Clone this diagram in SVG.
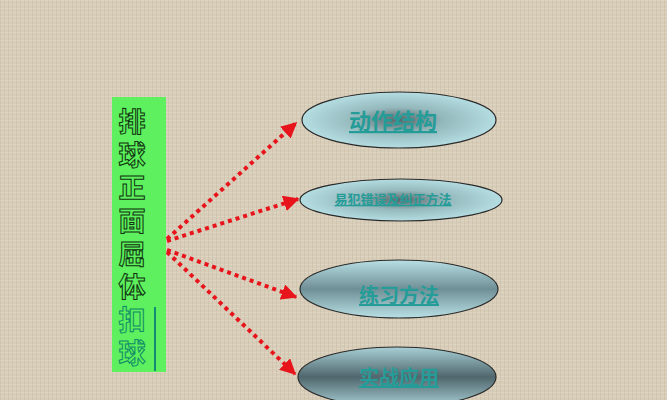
<svg xmlns="http://www.w3.org/2000/svg" width="667" height="400" viewBox="0 0 667 400">
<defs>
<pattern id="linen" width="4" height="4" patternUnits="userSpaceOnUse">
<rect width="4" height="4" fill="#d8cdb8"/>
<rect width="4" height="1" fill="#e4dbc9" opacity="0.6"/>
<rect width="1" height="4" fill="#c7bca6" opacity="0.5"/>
</pattern>
<radialGradient id="rg1" cx="0.5" cy="0.5" r="0.5">
<stop offset="0" stop-color="#5c6468"/>
<stop offset="0.45" stop-color="#94b8bc"/>
<stop offset="1" stop-color="#b4dde2"/>
</radialGradient>
<linearGradient id="lg3" x1="0" y1="0" x2="0" y2="1">
<stop offset="0" stop-color="#b8e0e4"/>
<stop offset="0.5" stop-color="#6f8f96"/>
<stop offset="1" stop-color="#b8e0e4"/>
</linearGradient>
<linearGradient id="lg4" x1="0" y1="0" x2="0" y2="1">
<stop offset="0" stop-color="#a8d0d6"/>
<stop offset="0.5" stop-color="#4f666c"/>
<stop offset="1" stop-color="#a8d0d6"/>
</linearGradient>
<marker id="ah" viewBox="0 0 10 10" refX="9" refY="5" markerWidth="4" markerHeight="4" orient="auto" markerUnits="strokeWidth">
<path d="M0,0 L10,5 L0,10 Z" fill="#e8141c"/>
</marker>
</defs>
<style>
.ell{stroke:#2a2a2a;stroke-width:1.2}
.lbl{font-family:"Noto Sans CJK SC","Noto Sans",sans-serif;fill:#259c98;text-anchor:middle;text-decoration:underline;font-weight:bold}
.conn{fill:none;stroke:#e8141c;stroke-width:4;stroke-dasharray:4 4;marker-end:url(#ah)}
.vt{font-family:"Noto Sans CJK SC",sans-serif;font-size:27px;font-weight:bold;fill:#5cf05c;stroke:#103010;stroke-width:1;writing-mode:vertical-rl;text-orientation:upright;letter-spacing:6px}
.t2{stroke:#0f8a6a}
</style>
<rect width="667" height="400" fill="url(#linen)"/>
<g id="title">
<rect x="112" y="97" width="54" height="275" fill="#5ef05e"/>
<text class="vt" x="132" y="108">排球正面屈体<tspan class="t2">扣球</tspan></text>
<line x1="155" y1="307" x2="155" y2="371" stroke="#128a74" stroke-width="2"/>
</g>
<g id="connectors">
<path class="conn" d="M167,239 L296,123"/>
<path class="conn" d="M167,241 L298,199"/>
<path class="conn" d="M167,250 L296,297"/>
<path class="conn" d="M167,252 L295,374"/>
</g>
<g id="n1">
<ellipse class="ell" cx="399" cy="120" rx="97" ry="28" fill="url(#rg1)"/>
<text class="lbl" x="393" y="129" font-size="22">动作结构</text>
</g>
<g id="n2">
<ellipse class="ell" cx="401" cy="200" rx="101" ry="21" fill="url(#rg1)"/>
<text class="lbl" x="393" y="204" font-size="13">易犯错误及纠正方法</text>
</g>
<g id="n3">
<ellipse class="ell" cx="399" cy="289" rx="99" ry="29" fill="url(#lg3)"/>
<text class="lbl" x="399" y="303" font-size="20">练习方法</text>
</g>
<g id="n4">
<ellipse class="ell" cx="397" cy="377" rx="99" ry="30" fill="url(#lg4)"/>
<text class="lbl" x="399" y="385" font-size="20">实战应用</text>
</g>
</svg>
